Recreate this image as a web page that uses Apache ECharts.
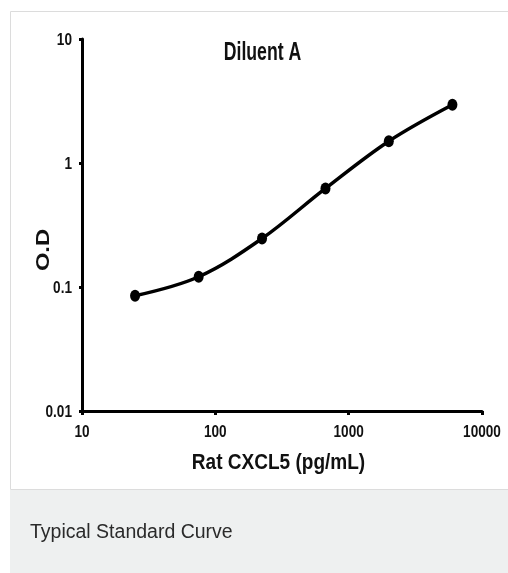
<!DOCTYPE html>
<html>
<head>
<meta charset="utf-8">
<script src="https://cdn.jsdelivr.net/npm/echarts@6/dist/echarts.min.js"></script>
<style>
html,body{margin:0;padding:0;background:#fff;}
#c{width:508px;height:573px;}
</style>
</head>
<body>
<div id="c"></div>
<script>
const concentrations = [25, 75, 224, 670, 2000, 6000];
const odValues = [0.085, 0.121, 0.246, 0.624, 1.50, 2.95];
const xTickValues = [10, 100, 1000, 10000];
const xTickLabels = ['10', '100', '1000', '10000'];
const yTickValues = [0.01, 0.1, 1, 10];
const yTickLabels = ['0.01', '0.1', '1', '10'];
const titleText = 'Diluent A';
const xName = 'Rat CXCL5 (pg/mL)';
const yName = 'O.D';
const caption = 'Typical Standard Curve';

const sans = "'Liberation Sans', Arial, sans-serif";
const chart = echarts.init(document.getElementById('c'), null, {renderer: 'canvas'});

const baseGraphics = [
  {type: 'rect', id: 'card', z: -10, shape: {x: 10.5, y: 11.5, width: 520, height: 478}, style: {fill: '#fff', stroke: '#dcdcdc', lineWidth: 1}},
  {type: 'rect', id: 'capbg', z: -10, shape: {x: 10, y: 490, width: 498, height: 83}, style: {fill: '#eef0f0'}},
  {type: 'text', id: 'caption', x: 30, y: 533, scaleX: 1.0, style: {text: caption, fill: '#2a2a2a', font: "19.5px " + sans, textVerticalAlign: 'middle'}},
  {type: 'text', id: 'title', x: 262.5, y: 53, scaleX: 0.68, style: {text: titleText, fill: '#111', font: "bold 26px " + sans, textAlign: 'center', textVerticalAlign: 'middle'}},
  {type: 'text', id: 'xname', x: 278.5, y: 463, scaleX: 0.865, style: {text: xName, fill: '#111', font: "bold 22px " + sans, textAlign: 'center', textVerticalAlign: 'middle'}},
  {type: 'text', id: 'yname', x: 43.5, y: 250, rotation: Math.PI / 2, scaleX: 1.25, style: {text: yName, fill: '#111', font: "bold 19px " + sans, textAlign: 'center', textVerticalAlign: 'middle'}}
];

chart.setOption({
  backgroundColor: '#fff',
  animation: false,
  graphic: baseGraphics,
  grid: {left: 82, right: 26, top: 39, bottom: 162, containLabel: false},
  xAxis: {
    type: 'log', logBase: 10, min: 10, max: 10000,
    axisLine: {lineStyle: {color: '#000', width: 3}},
    axisTick: {show: true, length: 4, lineStyle: {color: '#000', width: 3}},
    splitLine: {show: false},
    minorTick: {show: false},
    axisLabel: {show: false}
  },
  yAxis: {
    type: 'log', logBase: 10, min: 0.01, max: 10,
    axisLine: {lineStyle: {color: '#000', width: 3}},
    axisTick: {show: true, length: 3, lineStyle: {color: '#000', width: 3}},
    splitLine: {show: false},
    axisLabel: {show: false}
  },
  series: [{
    type: 'line',
    data: concentrations.map((x, i) => [x, odValues[i]]),
    smooth: 0.35,
    symbol: 'circle', symbolSize: [10, 12],
    lineStyle: {color: '#000', width: 3.5},
    itemStyle: {color: '#000'}
  }]
});

// tick labels positioned through the axes' own scales
const labelFont = "bold 17px " + sans;
const tickGraphics = [];
xTickValues.forEach((v, i) => {
  const px = chart.convertToPixel({xAxisIndex: 0}, v);
  const py = chart.convertToPixel({yAxisIndex: 0}, 0.01);
  tickGraphics.push({type: 'text', id: 'xl' + i, x: px, y: py + 21, scaleX: 0.8,
    style: {text: xTickLabels[i], fill: '#111', font: labelFont, textAlign: 'center', textVerticalAlign: 'middle'}});
});
yTickValues.forEach((v, i) => {
  const px = chart.convertToPixel({xAxisIndex: 0}, 10);
  const py = chart.convertToPixel({yAxisIndex: 0}, v);
  tickGraphics.push({type: 'text', id: 'yl' + i, x: px - 10, y: py + 1, scaleX: 0.8,
    style: {text: yTickLabels[i], fill: '#111', font: labelFont, textAlign: 'right', textVerticalAlign: 'middle'}});
});
chart.setOption({graphic: baseGraphics.concat(tickGraphics)});
</script>
</body>
</html>
